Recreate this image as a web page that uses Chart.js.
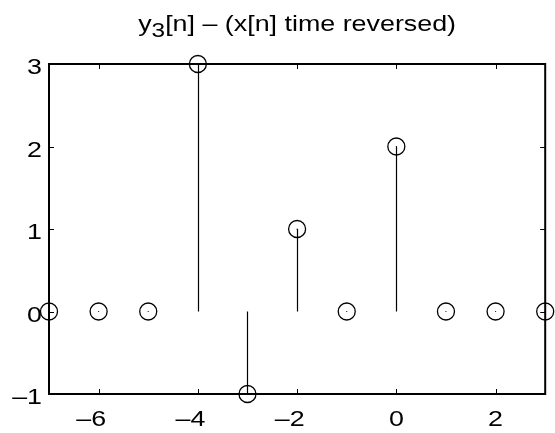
<!DOCTYPE html>
<html>
<head>
<meta charset="utf-8">
<script src="https://cdn.jsdelivr.net/npm/chart.js@4"></script>
<style>
  html, body { margin: 0; padding: 0; background: #fff; }
  #wrap { width: 555px; height: 433px; }
</style>
</head>
<body>
<div id="wrap"><canvas id="myChart" width="555" height="433"></canvas></div>
<script>
// stem data: n and y3[n]
var nValues = [-7, -6, -5, -4, -3, -2, -1, 0, 1, 2, 3];
var yValues = [0, 0, 0, 3, -1, 1, 0, 2, 0, 0, 0];
var xTicks = [-6, -4, -2, 0, 2];
var yTicks = [-1, 0, 1, 2, 3];
var titleMain = 'y';
var titleSub = '3';
var titleRest = '[n] \u2013 (x[n] time reversed)';

var FONT = '"Liberation Sans", Arial, Helvetica, sans-serif';
var SX = 1.22; // the original text is a bit wider than the font

var points = nValues.map(function (n, i) {
    return { x: n, y: yValues[i] };
});

function fmt(v) {
    return v < 0 ? '\u2013' + Math.abs(v) : String(v);
}

// draw a string squeezed/stretched horizontally
function wideText(ctx, txt, x, y, align) {
    var w = ctx.measureText(txt).width * SX;
    var left = x;
    if (align === 'right') left = x - w;
    if (align === 'center') left = x - w / 2;
    ctx.save();
    ctx.translate(left, y);
    ctx.scale(SX, 1);
    ctx.textAlign = 'left';
    ctx.fillText(txt, 0, 0);
    ctx.restore();
    return w;
}

var stemPlugin = {
    id: 'stems',
    beforeDatasetsDraw: function (chart) {
        var ctx = chart.ctx;
        var xs = chart.scales.x, ys = chart.scales.y;
        ctx.save();
        ctx.strokeStyle = '#000';
        ctx.lineWidth = 1.2;
        var y0 = ys.getPixelForValue(0);
        for (var i = 0; i < nValues.length; i++) {
            if (yValues[i] === 0) continue;
            var px = Math.round(xs.getPixelForValue(nValues[i])) + 0.5;
            ctx.beginPath();
            ctx.moveTo(px, y0);
            ctx.lineTo(px, ys.getPixelForValue(yValues[i]));
            ctx.stroke();
        }
        ctx.restore();
    },
    afterDraw: function (chart) {
        var ctx = chart.ctx;
        var a = chart.chartArea;
        var xs = chart.scales.x, ys = chart.scales.y;
        ctx.save();
        ctx.strokeStyle = '#000';
        ctx.lineWidth = 2;
        ctx.strokeRect(a.left, a.top, a.right - a.left, a.bottom - a.top);
        ctx.lineWidth = 1;
        var t = 5;
        ctx.beginPath();
        xTicks.forEach(function (v) {
            var px = Math.round(xs.getPixelForValue(v)) + 0.5;
            ctx.moveTo(px, a.bottom); ctx.lineTo(px, a.bottom - t);
            ctx.moveTo(px, a.top); ctx.lineTo(px, a.top + t);
        });
        yTicks.forEach(function (v) {
            var py = Math.round(ys.getPixelForValue(v)) + 0.5;
            ctx.moveTo(a.left, py); ctx.lineTo(a.left + t, py);
            ctx.moveTo(a.right, py); ctx.lineTo(a.right - t, py);
        });
        ctx.stroke();

        // tick labels
        ctx.fillStyle = '#000';
        ctx.textBaseline = 'alphabetic';
        ctx.font = '22px ' + FONT;
        var dashW = ctx.measureText('\u2013').width * SX;
        xTicks.forEach(function (v) {
            var px = xs.getPixelForValue(v);
            var cx = v < 0 ? px - dashW / 2 : px;
            wideText(ctx, fmt(v), cx, a.bottom + 32, 'center');
        });
        yTicks.forEach(function (v) {
            var py = ys.getPixelForValue(v);
            wideText(ctx, fmt(v), a.left - 7, py + 10, 'right');
        });

        // title with subscript
        ctx.font = '22px ' + FONT;
        var w1 = ctx.measureText(titleMain).width * SX;
        var w3 = ctx.measureText(titleRest).width * SX;
        ctx.font = '20px ' + FONT;
        var w2 = ctx.measureText(titleSub).width * SX;
        var x = (a.left + a.right) / 2 - (w1 + w2 + w3) / 2;
        var base = 31;
        ctx.font = '22px ' + FONT;
        wideText(ctx, titleMain, x, base, 'left');
        ctx.font = '20px ' + FONT;
        wideText(ctx, titleSub, x + w1, base + 6, 'left');
        ctx.font = '22px ' + FONT;
        wideText(ctx, titleRest, x + w1 + w2, base, 'left');
        ctx.restore();
    }
};

const config = {
    type: 'scatter',
    data: {
        datasets: [{
            data: points,
            pointStyle: 'circle',
            pointRadius: 8.5,
            pointHoverRadius: 8.5,
            borderColor: '#000',
            borderWidth: 1.3,
            backgroundColor: 'rgba(0,0,0,0)',
            clip: false
        }, {
            data: points,
            pointRadius: 0.6,
            pointHoverRadius: 0.6,
            borderWidth: 0,
            backgroundColor: '#000',
            clip: false
        }]
    },
    options: {
        responsive: false,
        animation: false,
        events: [],
        layout: { padding: { top: 64, right: 5, left: 0, bottom: 0 } },
        plugins: { legend: { display: false }, tooltip: { enabled: false }, title: { display: false } },
        scales: {
            x: {
                type: 'linear',
                min: -7,
                max: 3,
                afterBuildTicks: function (s) { s.ticks = xTicks.map(function (v) { return { value: v }; }); },
                afterFit: function (s) { s.height = 39; },
                grid: { display: false, drawTicks: false },
                border: { display: false },
                ticks: { display: false }
            },
            y: {
                type: 'linear',
                min: -1,
                max: 3,
                afterBuildTicks: function (s) { s.ticks = yTicks.map(function (v) { return { value: v }; }); },
                afterFit: function (s) { s.width = 49; },
                grid: { display: false, drawTicks: false },
                border: { display: false },
                ticks: { display: false }
            }
        }
    },
    plugins: [stemPlugin]
};

const myChart = new Chart(document.getElementById('myChart'), config);
</script>
</body>
</html>
